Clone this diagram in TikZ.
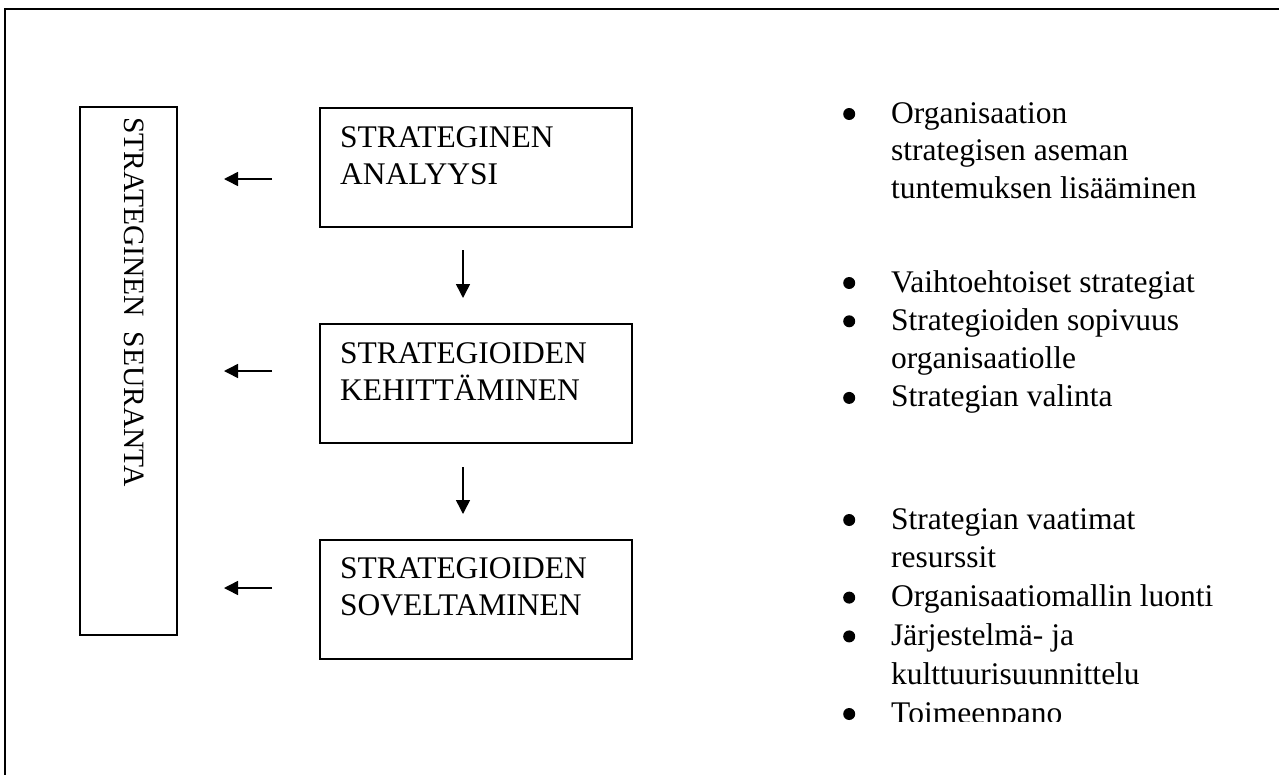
\documentclass[tikz,border=0pt]{standalone}
\usepackage{fontspec}
\setmainfont{Liberation Serif}
\usetikzlibrary{arrows.meta,calc}
% round list bullet, centred 9pt above the baseline
\newcommand\lstdot{\tikz[x=1pt,y=1pt,baseline=0pt]\fill (6,9) circle[radius=6pt];}
\newcommand\lstbul{\makebox[48pt][l]{\lstdot}}
\newcommand\lstind{\hspace*{48pt}}
\begin{document}
\begin{tikzpicture}[x=1pt,y=-1pt,
  frame/.style={line width=2pt},
  stepbox/.style={draw,line width=1.7pt,rectangle,minimum width=312pt,minimum height=119pt,inner sep=0pt,anchor=north west},
  sidebox/.style={draw,line width=1.7pt,rectangle,minimum width=97pt,minimum height=528pt,inner sep=0pt,anchor=north west},
  boxtext/.style={inner sep=0pt,anchor=base west,font=\fontsize{31.5}{37}\selectfont},
  sidetext/.style={inner sep=0pt,anchor=base west,rotate=-90,font=\fontsize{29.5}{35}\selectfont},
  listtext/.style={inner sep=0pt,anchor=base west},
  arr/.style={line width=1.5pt,-{Triangle[length=14pt,width=14pt]}}]
\useasboundingbox (0,0) rectangle (1279,774);
\clip (0,0) rectangle (1279,774);

% page frame (runs off the right and bottom edges)
\draw[frame] (5,800) -- (5,9) -- (1300,9);

% monitoring column
\node[sidebox] (seuranta) at (79,106) {};
\node[sidetext] (seurantatxt) at (124,117) {STRATEGINEN\ \ SEURANTA};

% process steps
\node[stepbox] (analyysi) at (319,107) {};
\node[boxtext] (analyysitxt) at ($(analyysi.north west)+(21,40)$)
  {\begin{tabular}[t]{@{}l@{}}STRATEGINEN\\ANALYYSI\end{tabular}};

\node[stepbox] (kehitys) at (319,323) {};
\node[boxtext] (kehitystxt) at ($(kehitys.north west)+(21,40)$)
  {\begin{tabular}[t]{@{}l@{}}STRATEGIOIDEN\\KEHITTÄMINEN\end{tabular}};

\node[stepbox] (sovellus) at (319,539) {};
\node[boxtext] (sovellustxt) at ($(sovellus.north west)+(21,39)$)
  {\begin{tabular}[t]{@{}l@{}}STRATEGIOIDEN\\SOVELTAMINEN\end{tabular}};

% arrows between the steps
\coordinate (d1s) at (463,250);
\coordinate (d1e) at (463,298);
\coordinate (d2s) at (463,467);
\coordinate (d2e) at (463,514);
\draw[arr] (d1s) -- (d1e);
\draw[arr] (d2s) -- (d2e);

% arrows towards the monitoring column
\coordinate (l1s) at (272,179);
\coordinate (l1e) at (224,179);
\coordinate (l2s) at (272,371);
\coordinate (l2e) at (224,371);
\coordinate (l3s) at (272,588);
\coordinate (l3e) at (224,588);
\draw[arr] (l1s) -- (l1e);
\draw[arr] (l2s) -- (l2e);
\draw[arr] (l3s) -- (l3e);

% descriptions
\node[listtext] (lista1) at (843,123)
  {\fontsize{31.5}{37.5}\selectfont
   \begin{tabular}[t]{@{}l@{}}
   \lstbul Organisaation\\
   \lstind strategisen aseman\\
   \lstind tuntemuksen lisääminen
   \end{tabular}};

\node[listtext] (lista2) at (843,292)
  {\fontsize{31.5}{38.3}\selectfont
   \begin{tabular}[t]{@{}l@{}}
   \lstbul Vaihtoehtoiset strategiat\\
   \lstbul Strategioiden sopivuus\\
   \lstind organisaatiolle\\
   \lstbul Strategian valinta
   \end{tabular}};

\begin{scope}
\clip (800,480) rectangle (1279,721.5);
\node[listtext] (lista3) at (843,529)
  {\fontsize{31.5}{38.8}\selectfont
   \begin{tabular}[t]{@{}l@{}}
   \lstbul Strategian vaatimat\\
   \lstind resurssit\\
   \lstbul Organisaatiomallin luonti\\
   \lstbul Järjestelmä- ja\\
   \lstind kulttuurisuunnittelu\\
   \lstbul Toimeenpano
   \end{tabular}};
\end{scope}
\end{tikzpicture}
\end{document}
